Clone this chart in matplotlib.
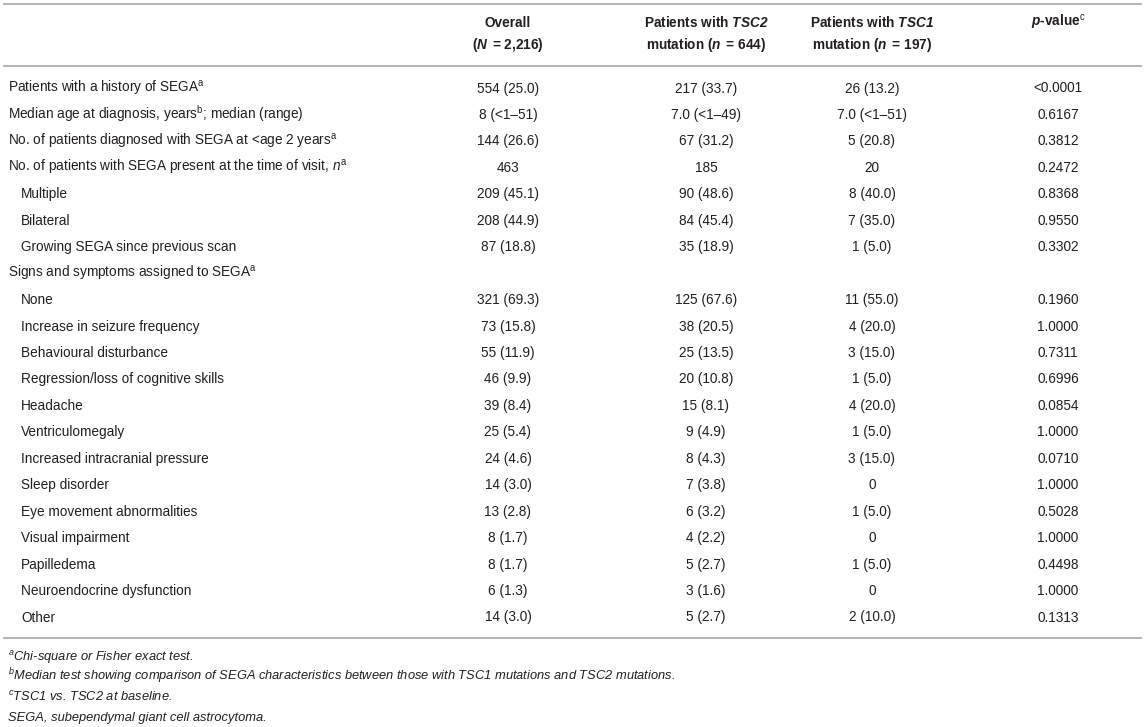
import matplotlib
matplotlib.use("Agg")
import matplotlib.pyplot as plt

plt.rcParams['font.family'] = ['Liberation Sans', 'DejaVu Sans']
plt.rcParams['mathtext.fontset'] = 'custom'
plt.rcParams['mathtext.rm'] = 'Liberation Sans'
plt.rcParams['mathtext.it'] = 'Liberation Sans:italic'
plt.rcParams['mathtext.bf'] = 'Liberation Sans:bold'
plt.rcParams['mathtext.bfit'] = 'Liberation Sans:italic:bold'

# ---- data ----
headers_line1 = ["Overall", r"Patients with $\mathbfit{TSC2}$", r"Patients with $\mathbfit{TSC1}$",
                 r"$\mathbfit{p}$-value$^{\mathrm{c}}$"]
headers_line2 = [r"($\mathbfit{N}\,$ = 2,216)", r"mutation ($\mathbfit{n}\,$ = 644)",
                 r"mutation ($\mathbfit{n}\,$ = 197)", ""]

row_labels = [
    r"Patients with a history of SEGA$^{\mathrm{a}}$",
    r"Median age at diagnosis, years$^{\mathrm{b}}$; median (range)",
    r"No. of patients diagnosed with SEGA at <age 2 years$^{\mathrm{a}}$",
    r"No. of patients with SEGA present at the time of visit, $n^{\mathrm{a}}$",
    "Multiple",
    "Bilateral",
    "Growing SEGA since previous scan",
    r"Signs and symptoms assigned to SEGA$^{\mathrm{a}}$",
    "None",
    "Increase in seizure frequency",
    "Behavioural disturbance",
    "Regression/loss of cognitive skills",
    "Headache",
    "Ventriculomegaly",
    "Increased intracranial pressure",
    "Sleep disorder",
    "Eye movement abnormalities",
    "Visual impairment",
    "Papilledema",
    "Neuroendocrine dysfunction",
    "Other",
]
row_indent = [0, 0, 0, 0, 1, 1, 1, 0] + [1] * 13

overall = ["554 (25.0)", "8 (<1–51)", "144 (26.6)", "463", "209 (45.1)", "208 (44.9)",
           "87 (18.8)", "", "321 (69.3)", "73 (15.8)", "55 (11.9)", "46 (9.9)", "39 (8.4)",
           "25 (5.4)", "24 (4.6)", "14 (3.0)", "13 (2.8)", "8 (1.7)", "8 (1.7)", "6 (1.3)",
           "14 (3.0)"]
tsc2 = ["217 (33.7)", "7.0 (<1–49)", "67 (31.2)", "185", "90 (48.6)", "84 (45.4)",
        "35 (18.9)", "", "125 (67.6)", "38 (20.5)", "25 (13.5)", "20 (10.8)", "15 (8.1)",
        "9 (4.9)", "8 (4.3)", "7 (3.8)", "6 (3.2)", "4 (2.2)", "5 (2.7)", "3 (1.6)",
        "5 (2.7)"]
tsc1 = ["26 (13.2)", "7.0 (<1–51)", "5 (20.8)", "20", "8 (40.0)", "7 (35.0)",
        "1 (5.0)", "", "11 (55.0)", "4 (20.0)", "3 (15.0)", "1 (5.0)", "4 (20.0)",
        "1 (5.0)", "3 (15.0)", "0", "1 (5.0)", "0", "1 (5.0)", "0", "2 (10.0)"]
pvalues = ["<0.0001", "0.6167", "0.3812", "0.2472", "0.8368", "0.9550", "0.3302", "",
           "0.1960", "1.0000", "0.7311", "0.6996", "0.0854", "1.0000", "0.0710", "1.0000",
           "0.5028", "1.0000", "0.4498", "1.0000", "0.1313"]

footnotes = [
    r"$^{a}$Chi-square or Fisher exact test.",
    r"$^{b}$Median test showing comparison of SEGA characteristics between those with TSC1 mutations and TSC2 mutations.",
    r"$^{c}$TSC1 vs. TSC2 at baseline.",
    "SEGA, subependymal giant cell astrocytoma.",
]

# ---- layout ----
W, H = 1145, 727
fig = plt.figure(figsize=(W / 100, H / 100), dpi=100)
ax = fig.add_axes([0, 0, 1, 1])
ax.set_xlim(0, W)
ax.set_ylim(H, 0)
ax.axis('off')

col_x = [508, 706, 872, 1058]
fs = 9.8
txt_color = '#231f20'
line_color = '#b4b4b4'

for y in (3.5, 66, 637.5):
    ax.plot([3, 1142], [y, y], color=line_color, lw=1.4, solid_capstyle='butt')

for cx, h1, h2 in zip(col_x, headers_line1, headers_line2):
    ax.text(cx, 27, h1, ha='center', va='baseline', fontsize=fs, fontweight='bold', color=txt_color)
    if h2:
        ax.text(cx, 49, h2, ha='center', va='baseline', fontsize=fs, fontweight='bold', color=txt_color)

row0 = 92.5
dy = 26.45
for i, lab in enumerate(row_labels):
    y = row0 + i * dy
    x = 8 + 13 * row_indent[i]
    ax.text(x, y, lab, ha='left', va='baseline', fontsize=fs, color=txt_color)
    for cx, col in zip(col_x, (overall, tsc2, tsc1, pvalues)):
        if col[i]:
            ax.text(cx, y, col[i], ha='center', va='baseline', fontsize=fs, color=txt_color)

fn_y0 = 660.5
fn_dy = 20.2
for j, fn in enumerate(footnotes):
    ax.text(8, fn_y0 + j * fn_dy, fn, ha='left', va='baseline', fontsize=9.3,
            style='italic', color=txt_color)

fig.savefig("out.png", dpi=100)
